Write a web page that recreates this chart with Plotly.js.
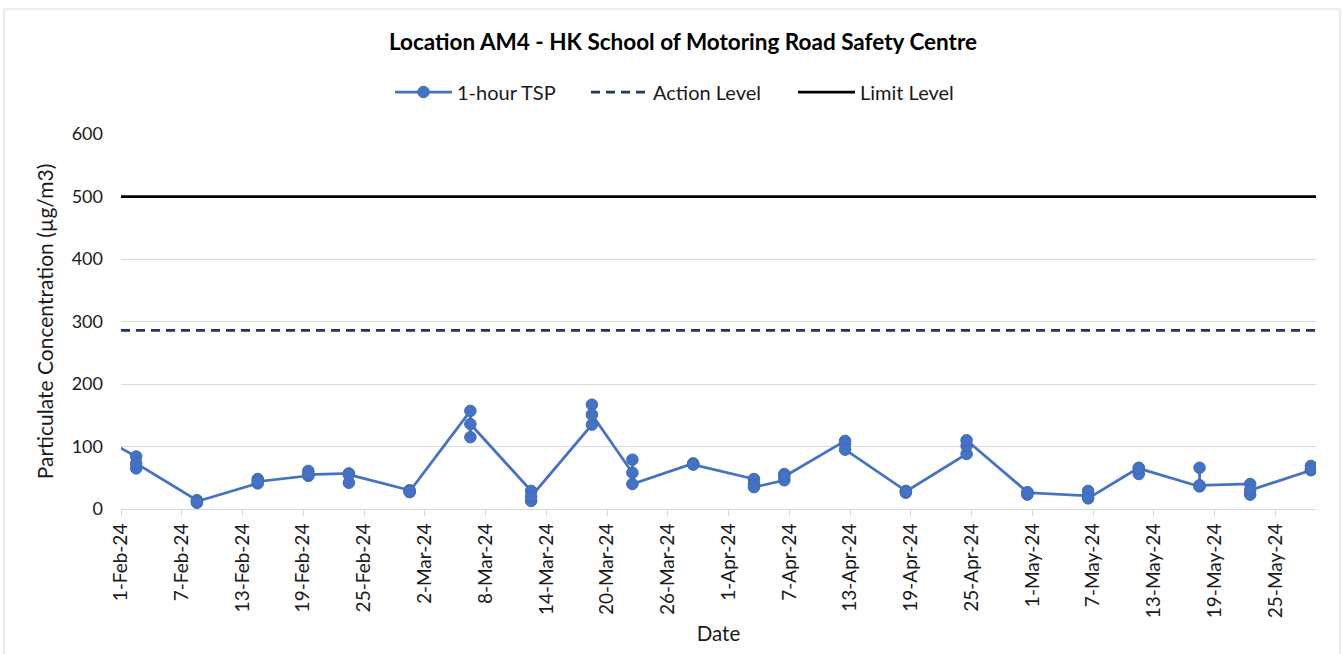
<!DOCTYPE html>
<html>
<head>
<meta charset="utf-8">
<script src="https://cdn.plot.ly/plotly-3.0.1.min.js"></script>
<style>
  html, body { margin: 0; padding: 0; background: #ffffff; }
  #chart { width: 1343px; height: 654px; }
</style>
</head>
<body>
<div id="chart"></div>
<script>
// Sampling dates (three 1-hour readings per date)
const sampleDates = [
  '2024-01-27', '2024-02-02', '2024-02-08', '2024-02-14', '2024-02-19', '2024-02-23',
  '2024-02-29', '2024-03-06', '2024-03-12', '2024-03-18', '2024-03-22', '2024-03-28',
  '2024-04-03', '2024-04-06', '2024-04-12', '2024-04-18', '2024-04-24', '2024-04-30',
  '2024-05-06', '2024-05-11', '2024-05-17', '2024-05-22', '2024-05-28'
];
const reading1 = [null, 84, 14, 41, 53, 57, 30, 157, 29, 135, 58, 73, 48, 46, 109, 29, 88, 27, 21, 66, 36, 40, 62];
const reading2 = [null, 65, 10, 48, 61, 42, 27, 115, 13, 167, 79, 72, 40, 56, 104, 26, 101, 23, 29, 56, 66, 23, 69];
const reading3 = [137, 73, 12, 44, 55, 55, 28, 136, 20, 151, 40, 71, 35, 52, 95, 28, 110, 26, 17, 65, 38, 30, 64];

const actionLevel = 286;
const limitLevel = 500;
const axisStart = '2024-02-01';
const axisEnd = '2024-05-29';
const tickDates = [
  '2024-02-01', '2024-02-07', '2024-02-13', '2024-02-19', '2024-02-25', '2024-03-02',
  '2024-03-08', '2024-03-14', '2024-03-20', '2024-03-26', '2024-04-01', '2024-04-07',
  '2024-04-13', '2024-04-19', '2024-04-25', '2024-05-01', '2024-05-07', '2024-05-13',
  '2024-05-19', '2024-05-25'
];
const tickLabels = [
  '1-Feb-24', '7-Feb-24', '13-Feb-24', '19-Feb-24', '25-Feb-24', '2-Mar-24',
  '8-Mar-24', '14-Mar-24', '20-Mar-24', '26-Mar-24', '1-Apr-24', '7-Apr-24',
  '13-Apr-24', '19-Apr-24', '25-Apr-24', '1-May-24', '7-May-24', '13-May-24',
  '19-May-24', '25-May-24'
];
const yTicks = [0, 100, 200, 300, 400, 500, 600];

// build sequential series
const tspX = [], tspY = [];
sampleDates.forEach((d, i) => {
  [reading1[i], reading2[i], reading3[i]].forEach(v => {
    if (v !== null) { tspX.push(d); tspY.push(v); }
  });
});

const FONT = 'Lato, "Open Sans", sans-serif';
const TEXT = '#1a1a1a';

const traces = [
  {
    x: tspX, y: tspY, type: 'scatter', mode: 'lines+markers',
    name: '1-hour TSP', legendwidth: 124,
    xperiod: 86400000, xperiodalignment: 'middle',
    line: { color: '#4472C4', width: 2.75 },
    marker: { color: '#4472C4', size: 11.5, line: { color: '#3F69B5', width: 1 } },
    cliponaxis: true
  },
  {
    x: [axisStart, axisEnd], y: [actionLevel, actionLevel], type: 'scatter', mode: 'lines',
    name: 'Action Level', legendwidth: 135,
    line: { color: '#1F3864', width: 2.75, dash: '9px,6px' }
  },
  {
    x: [axisStart, axisEnd], y: [limitLevel, limitLevel], type: 'scatter', mode: 'lines',
    name: 'Limit Level', legendwidth: 100,
    line: { color: '#000000', width: 2.75 }
  }
];

const plotL = 121, plotR = 1316, plotT = 134, plotB = 509;
const pw = plotR - plotL, ph = plotB - plotT;

const layout = {
  width: 1343, height: 654,
  margin: { l: plotL, r: 1343 - plotR, t: plotT, b: 654 - plotB, pad: 0 },
  paper_bgcolor: '#ffffff', plot_bgcolor: '#ffffff',
  font: { family: FONT, size: 18, color: TEXT },
  title: {
    text: '<b>Location AM4 - HK School of Motoring Road Safety Centre</b>',
    font: { family: FONT, size: 22.5, color: '#000000' },
    xref: 'paper', x: (683 - plotL) / pw, xanchor: 'center',
    yref: 'container', y: 1 - 42 / 654, yanchor: 'middle'
  },
  showlegend: true,
  legend: {
    orientation: 'h', x: (390 - plotL) / pw, xanchor: 'left',
    y: (plotB - 92) / ph, yanchor: 'middle',
    font: { family: FONT, size: 20, color: TEXT },
    itemwidth: 57, tracegroupgap: 0, bgcolor: 'rgba(0,0,0,0)'
  },
  xaxis: {
    type: 'date',
    range: [axisStart, axisEnd],
    tickmode: 'array', tickvals: tickDates, ticktext: tickLabels,
    tickangle: -90,
    ticks: 'outside', ticklen: 6, tickcolor: '#D9D9D9', tickwidth: 1,
    showline: true, linecolor: '#D9D9D9', linewidth: 1,
    showgrid: false, zeroline: false,
    tickfont: { family: FONT, size: 19, color: TEXT },
    title: { text: 'Date', font: { family: FONT, size: 20.5, color: TEXT }, standoff: 9 },
    fixedrange: true
  },
  yaxis: {
    range: [0, 600],
    tickmode: 'array', tickvals: yTicks,
    showgrid: true, gridcolor: '#D9D9D9', gridwidth: 1,
    zeroline: false, showline: false, ticks: '',
    ticklabelstandoff: 17,
    tickfont: { family: FONT, size: 18, color: TEXT },
    title: { text: 'Particulate Concentration (µg/m3)', font: { family: FONT, size: 21, color: TEXT }, standoff: 12 },
    fixedrange: true
  },
  shapes: [
    {
      type: 'rect', xref: 'paper', yref: 'paper',
      x0: (4 - plotL) / pw, x1: (1340 - plotL) / pw,
      y0: (plotB - 670) / ph, y1: (plotB - 9) / ph,
      line: { color: '#D9D9D9', width: 1 }, fillcolor: 'rgba(0,0,0,0)', layer: 'below'
    }
  ]
};

Plotly.newPlot('chart', traces, layout, { displayModeBar: false, staticPlot: true });
</script>
</body>
</html>
